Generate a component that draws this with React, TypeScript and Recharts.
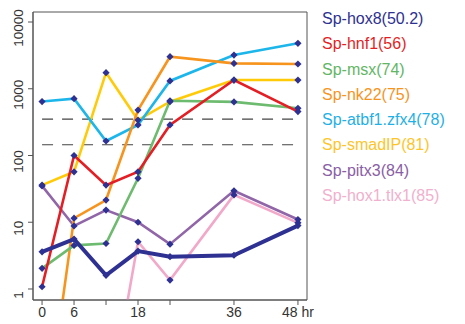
import React from 'react';
import {
  LineChart,
  Line,
  XAxis,
  YAxis,
  ReferenceLine,
  ReferenceArea
} from 'recharts';

// hours after fertilization
const hours = [0, 6, 12, 18, 24, 36, 48];

// expression levels (log scale)
const hox8 = [3.6, 5.6, 1.6, 3.7, 3.05, 3.2, 8.9];
const hnf1 = [1.08, 100, 36, 57, 287, 1350, 455];
const msx = [2.04, 4.5, 4.8, 45.5, 660, 635, 510];
const nk22 = [0.004, 11.5, 21.5, 480, 3020, 2400, 2350];
const atbf1 = [643, 710, 165, 287, 1310, 3200, 4800];
const smadIP = [36, 57, 1740, 340, 640, 1350, 1350];
const pitx3 = [35, 8.8, 15.2, 10, 4.7, 29.6, 11];
const hox1 = [0.01, 0.01, 0.01, 5.1, 1.36, 25.7, 9.8];

const xTicks = [0, 6, 12, 18, 24, 36, 48];
const xTickLabels = ['0', '6', '', '18', '', '36', '48 hr'];
const yTicks = [1, 10, 100, 1000, 10000];
const thresholds = [350, 145];

const series = [
  { key: 'hox8', name: 'Sp-hox8(50.2)', values: hox8, color: '#2e3192', text: '#2e3192', width: 4 },
  { key: 'hnf1', name: 'Sp-hnf1(56)', values: hnf1, color: '#e31e24', text: '#e31e24', width: 2.6 },
  { key: 'msx', name: 'Sp-msx(74)', values: msx, color: '#6dbb6e', text: '#62b665', width: 2.6 },
  { key: 'nk22', name: 'Sp-nk22(75)', values: nk22, color: '#f7941d', text: '#f7941d', width: 2.6 },
  { key: 'atbf1', name: 'Sp-atbf1.zfx4(78)', values: atbf1, color: '#1db6ea', text: '#1fb0e6', width: 2.6 },
  { key: 'smadIP', name: 'Sp-smadIP(81)', values: smadIP, color: '#ffcb08', text: '#fdc52a', width: 2.6 },
  { key: 'pitx3', name: 'Sp-pitx3(84)', values: pitx3, color: '#9166a8', text: '#8a5ea6', width: 2.6 },
  { key: 'hox1', name: 'Sp-hox1.tlx1(85)', values: hox1, color: '#f2a9c9', text: '#f1b0cd', width: 2.6 }
];

const data = hours.map((h, i) => {
  const row: Record<string, number> = { hr: h };
  series.forEach(s => {
    row[s.key] = s.values[i];
  });
  return row;
});

const Y_MIN = 0.684;
const Y_MAX = 14125;
const X_MIN = -1.7;
const X_MAX = 49.7;
const AXIS = '#555';
const FONT = '"Liberation Sans", Arial, sans-serif';

const Diamond = (props: any) => {
  const { cx, cy, value } = props;
  if (cx == null || cy == null || value < Y_MIN) return null;
  const r = 3.6;
  return (
    <path
      d={`M${cx},${cy - r}L${cx + r},${cy}L${cx},${cy + r}L${cx - r},${cy}Z`}
      fill="#2e3192"
    />
  );
};

const YTick = (props: any) => {
  const { x, y, payload } = props;
  return (
    <text
      x={x - 3}
      y={y + 6}
      transform={`rotate(-90, ${x - 3}, ${y + 6})`}
      textAnchor="middle"
      fontSize={13.5}
      fill="#333"
      fontFamily={FONT}
    >
      {payload.value}
    </text>
  );
};

export default function App() {
  return (
    <div style={{ position: 'fixed', left: 0, top: 0, width: 465, height: 324, background: '#fff' }}>
      <LineChart
        width={465}
        height={324}
        data={data}
        margin={{ top: 12, right: 158, bottom: 0, left: 0 }}
      >
        <XAxis
          dataKey="hr"
          type="number"
          domain={[X_MIN, X_MAX]}
          ticks={xTicks}
          tickFormatter={(v: number) => xTickLabels[xTicks.indexOf(v)]}
          allowDataOverflow
          stroke={AXIS}
          tickSize={5}
          height={24}
          tick={{ fontSize: 14, fill: '#333', fontFamily: FONT }}
        />
        <YAxis
          scale="log"
          type="number"
          domain={[Y_MIN, Y_MAX]}
          ticks={yTicks}
          allowDataOverflow
          stroke={AXIS}
          tickSize={5}
          width={33}
          tick={<YTick />}
        />
        <ReferenceArea
          x1={X_MIN}
          x2={X_MAX}
          y1={Y_MIN}
          y2={Y_MAX}
          fill="none"
          fillOpacity={0}
          stroke={AXIS}
          strokeWidth={1}
          ifOverflow="visible"
        />
        {thresholds.map(t => (
          <ReferenceLine
            key={t}
            segment={[{ x: 0, y: t }, { x: 48, y: t }]}
            stroke="#444"
            strokeWidth={1.2}
            strokeDasharray="11 9"
          />
        ))}
        {[...series].reverse().map(s => (
          <Line
            key={s.key}
            dataKey={s.key}
            stroke={s.color}
            strokeWidth={s.width}
            dot={<Diamond />}
            activeDot={false}
            isAnimationActive={false}
          />
        ))}
      </LineChart>
      <div
        style={{
          position: 'absolute',
          left: 322,
          top: 6,
          fontFamily: FONT,
          fontSize: 16,
          lineHeight: '25.3px'
        }}
      >
        {series.map(s => (
          <div key={s.key} style={{ color: s.text, whiteSpace: 'nowrap' }}>
            {s.name}
          </div>
        ))}
      </div>
    </div>
  );
}
